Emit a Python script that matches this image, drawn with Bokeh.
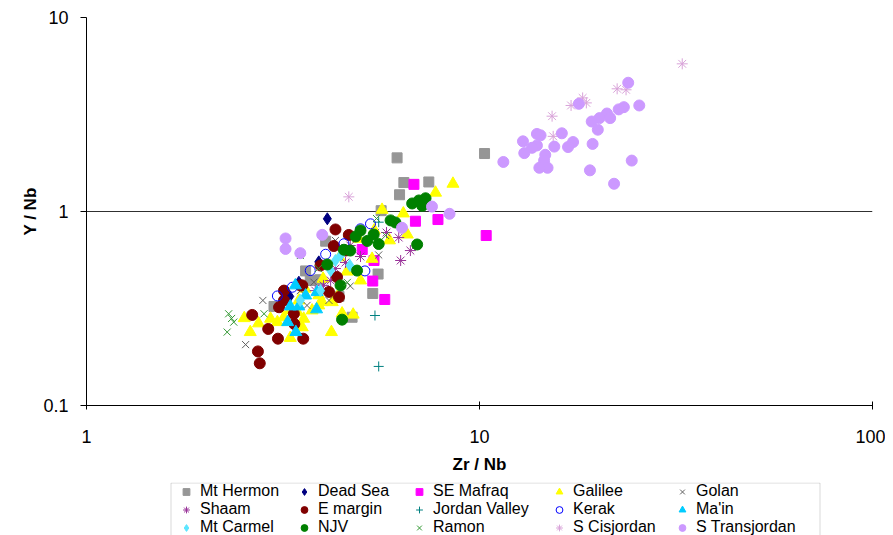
from bokeh.plotting import figure
from bokeh.layouts import column
from bokeh.models import Range1d, FixedTicker, CustomJSTickFormatter, Legend, LegendItem, BoxAnnotation
from bokeh.embed import file_html
from bokeh.resources import INLINE

FONT = "Liberation Sans"

# ---- data (Zr/Nb, Y/Nb) ----
mt_hermon_x = [6.17, 6.42, 7.43, 6.26, 5.62, 10.3, 5.52, 5.35, 4.74, 4.39, 4.06, 3.61, 3.71, 3.00, 3.92]
mt_hermon_y = [1.89, 1.41, 1.42, 1.22, 1.01, 1.99, 0.476, 0.378, 0.285, 0.365, 0.703, 0.494, 0.441, 0.324, 0.445]

dead_sea_x = [4.10, 3.47, 3.29, 4.47, 3.90]
dead_sea_y = [0.917, 0.432, 0.365, 0.629, 0.55]

se_mafraq_x = [6.81, 6.87, 7.84, 10.4, 5.03, 5.39, 5.35, 5.74]
se_mafraq_y = [1.38, 0.891, 0.909, 0.752, 0.637, 0.559, 0.438, 0.352]

galilee_x = [8.56, 7.73, 5.65, 6.40, 6.55, 4.98, 4.77, 4.47, 4.20, 2.61, 2.52, 2.74, 2.94, 3.06, 3.30,
             3.54, 3.57, 3.90, 3.75, 3.44, 3.18, 3.47, 3.98, 4.34, 4.93, 5.33, 4.22, 3.90, 4.60, 5.90,
             5.40, 3.30, 4.00, 3.60, 4.40]
galilee_y = [1.39, 1.25, 1.02, 0.977, 0.761, 0.441, 0.294, 0.298, 0.239, 0.239, 0.282, 0.265, 0.280, 0.269, 0.223,
             0.253, 0.280, 0.328, 0.309, 0.303, 0.285, 0.348, 0.341, 0.362, 0.723, 0.570, 0.341, 0.37, 0.49, 0.71,
             0.80, 0.31, 0.45, 0.40, 0.58]

golan_x = [2.81, 2.54, 3.64, 4.14, 4.69, 5.54, 3.79, 3.50, 4.30, 5.44]
golan_y = [0.348, 0.206, 0.328, 0.348, 0.413, 0.597, 0.432, 0.391, 0.709, 0.779]

shaam_x = [6.67, 6.30, 6.23, 5.80, 4.98, 4.18, 4.01, 4.30, 4.56, 4.69, 3.82]
shaam_y = [0.629, 0.559, 0.734, 0.779, 0.586, 0.441, 0.416, 0.508, 0.546, 0.668, 0.391]

e_margin_x = [2.64, 2.90, 3.07, 2.73, 2.76, 3.56, 3.38, 3.37, 3.18, 3.09, 3.54, 4.30, 4.65, 4.26,
              4.34, 4.14, 4.39, 3.18, 3.50, 3.94, 4.56]
e_margin_y = [0.293, 0.248, 0.221, 0.190, 0.165, 0.221, 0.263, 0.297, 0.348, 0.321, 0.416, 0.808, 0.757, 0.664,
              0.459, 0.385, 0.362, 0.391, 0.416, 0.527, 0.629]

jordan_valley_x = [5.42, 5.54, 5.54]
jordan_valley_y = [0.291, 0.159, 0.881]

kerak_x = [3.06, 3.34, 3.71, 4.06, 4.52, 4.98, 5.28, 5.11]
kerak_y = [0.367, 0.407, 0.496, 0.602, 0.682, 0.814, 0.864, 0.494]

main_x = [3.40, 3.86, 3.30, 3.47, 3.85, 3.25, 3.41, 3.61]
main_y = [0.416, 0.384, 0.324, 0.324, 0.313, 0.269, 0.239, 0.369]

mt_carmel_x = [4.30, 4.18, 4.68, 4.43, 3.94, 3.50]
mt_carmel_y = [0.559, 0.496, 0.527, 0.593, 0.391, 0.348]

njv_x = [6.74, 7.01, 7.29, 7.15, 5.94, 6.11, 6.94, 4.98, 5.38, 5.18, 5.54, 4.52, 4.88, 4.69, 4.10, 4.43, 4.47, 4.84]
njv_y = [1.10, 1.14, 1.17, 1.07, 0.90, 0.878, 0.676, 0.798, 0.761, 0.705, 0.680, 0.635, 0.496, 0.629, 0.533, 0.416, 0.277, 0.743]

ramon_x = [2.30, 2.37, 2.28, 2.34, 2.83, 4.61, 5.47, 5.77, 3.89, 3.50]
ramon_y = [0.297, 0.269, 0.239, 0.281, 0.297, 0.431, 0.920, 0.752, 0.508, 0.593]

s_cisjordan_x = [32.8, 22.4, 23.6, 18.3, 18.7, 17.1, 15.3, 15.4, 4.65]
s_cisjordan_y = [5.77, 4.29, 4.24, 3.85, 3.63, 3.52, 3.10, 2.44, 1.19]

s_transjordan_x = [23.9, 25.5, 23.3, 22.6, 21.1, 21.5, 20.2, 19.3, 20.0, 17.9, 16.2, 14.0, 14.3, 12.9, 14.0,
                   13.6, 13.0, 15.5, 17.3, 16.8, 19.4, 14.7, 14.6, 14.9, 14.2, 11.5, 24.4, 19.1, 22.0, 8.39,
                   7.57, 6.35, 3.21, 3.21, 3.50, 3.98]
s_transjordan_y = [4.61, 3.52, 3.45, 3.36, 3.20, 3.03, 3.03, 2.91, 2.64, 3.59, 2.53, 2.51, 2.47, 2.30, 2.19,
                   2.13, 2.00, 2.16, 2.28, 2.15, 2.23, 1.96, 1.83, 1.68, 1.68, 1.80, 1.83, 1.63, 1.39, 0.973,
                   1.06, 0.824, 0.726, 0.641, 0.610, 0.758]

x_ticks = [1, 10, 100]
y_ticks = [0.1, 1, 10]

series = [
    ("Mt Hermon", mt_hermon_x, mt_hermon_y, "square", "#969696", 10, True),
    ("Dead Sea", dead_sea_x, dead_sea_y, "diamond", "#000080", 12, True),
    ("SE Mafraq", se_mafraq_x, se_mafraq_y, "square", "#FF00FF", 10, True),
    ("Galilee", galilee_x, galilee_y, "triangle", "#FFFF00", 12, True),
    ("Golan", golan_x, golan_y, "x", "#606060", 10, False),
    ("Shaam", shaam_x, shaam_y, "asterisk", "#993399", 11, False),
    ("E margin", e_margin_x, e_margin_y, "circle", "#800000", 11, True),
    ("Jordan Valley", jordan_valley_x, jordan_valley_y, "cross", "#008080", 10, False),
    ("Kerak", kerak_x, kerak_y, "circle", "#0000FF", 10, None),
    ("Ma'in", main_x, main_y, "triangle", "#00CCFF", 12, True),
    ("Mt Carmel", mt_carmel_x, mt_carmel_y, "diamond", "#5CE6FF", 12, True),
    ("NJV", njv_x, njv_y, "circle", "#008000", 11, True),
    ("Ramon", ramon_x, ramon_y, "x", "#339933", 10, False),
    ("S Cisjordan", s_cisjordan_x, s_cisjordan_y, "asterisk", "#D9A3D9", 11, False),
    ("S Transjordan", s_transjordan_x, s_transjordan_y, "circle", "#CC99FF", 11, True),
]


def add_marker(fig, xs, ys, marker, color, size, filled):
    if filled is True:
        return fig.scatter(xs, ys, marker=marker, size=size, fill_color=color, line_color=color, line_width=1)
    if filled is None:
        return fig.scatter(xs, ys, marker=marker, size=size, fill_color=None, line_color=color, line_width=1)
    return fig.scatter(xs, ys, marker=marker, size=size, line_color=color, line_width=1)


# ---- main figure ----
p = figure(width=885, height=482, x_axis_type="log", y_axis_type="log",
           x_range=Range1d(1, 100), y_range=Range1d(0.1, 10),
           output_backend="svg", toolbar_location=None,
           min_border_left=86, min_border_right=13, min_border_top=17, min_border_bottom=77)
p.outline_line_color = None
p.background_fill_color = "white"

for ax in (p.xaxis[0], p.yaxis[0]):
    ax.minor_tick_line_color = None
    ax.axis_line_color = "black"
    ax.major_tick_line_color = "black"
    ax.major_label_text_font = FONT
    ax.major_label_text_font_size = "18px"
    ax.major_label_text_color = "black"
    ax.axis_label_text_font = FONT
    ax.axis_label_text_font_size = "17px"
    ax.axis_label_text_font_style = "bold"
    ax.axis_label_text_color = "black"
    ax.formatter = CustomJSTickFormatter(code="return String(tick);")

p.xaxis.ticker = FixedTicker(ticks=x_ticks)
p.yaxis.ticker = FixedTicker(ticks=y_ticks)
p.xaxis.axis_label = "Zr / Nb"
p.yaxis.axis_label = "Y / Nb"
p.xaxis.major_tick_in = 4
p.xaxis.major_tick_out = 4
p.yaxis.major_tick_in = 0
p.yaxis.major_tick_out = 6
p.xaxis.major_label_standoff = 20
p.yaxis.major_label_standoff = 12
p.xaxis.axis_label_standoff = 9
p.yaxis.axis_label_standoff = 0

p.xgrid.grid_line_color = None
p.ygrid.ticker = FixedTicker(ticks=[1, 10])
p.ygrid.grid_line_color = "#303030"
p.ygrid.grid_line_width = 1

for name, xs, ys, marker, color, size, filled in series:
    add_marker(p, xs, ys, marker, color, size, filled)

# ---- legend strip (its frame is aligned with the main frame: x from 86 to 872 px) ----
lg = figure(width=885, height=53, x_range=Range1d(86, 872), y_range=Range1d(0, 53),
            output_backend="svg", toolbar_location=None,
            min_border_left=86, min_border_right=13, min_border_top=0, min_border_bottom=0)
lg.xaxis.visible = False
lg.yaxis.visible = False
lg.xgrid.visible = False
lg.ygrid.visible = False
lg.outline_line_color = None
lg.add_layout(BoxAnnotation(left=170.5, right=819.5, top=52.5, bottom=-5,
                            fill_color=None, line_color="#808080", line_width=1))

col_x = [90, 208, 323, 463, 586]
for c in range(5):
    items = []
    for r in range(3):
        name, xs, ys, marker, color, size, filled = series[r * 5 + c]
        rend = add_marker(lg, xs[:1], ys[:1], marker, color, size, filled)
        rend.visible = False
        items.append(LegendItem(label=name, renderers=[rend]))
    leg = Legend(items=items, orientation="vertical", location=(col_x[c], -1))
    leg.label_text_font = FONT
    leg.label_text_font_size = "16px"
    leg.label_text_color = "black"
    leg.glyph_width = 20
    leg.glyph_height = 17
    leg.label_height = 17
    leg.label_standoff = 4
    leg.spacing = 0
    leg.padding = 0
    leg.margin = 0
    leg.border_line_color = None
    leg.background_fill_alpha = 0
    lg.add_layout(leg, "center")

layout = column(p, lg, spacing=0)
open("out.html", "w").write(file_html(layout, INLINE))
